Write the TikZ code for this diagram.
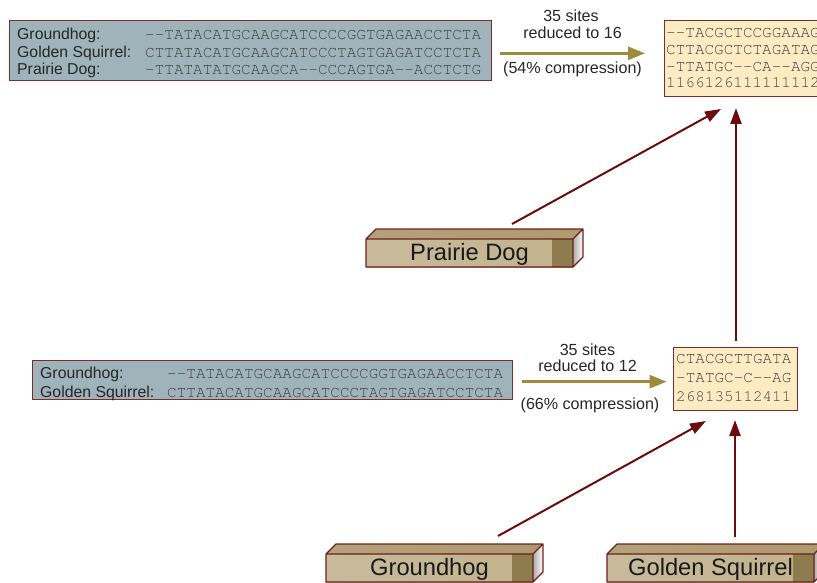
\documentclass[tikz,border=0pt]{standalone}
\usepackage{fontspec}
\setsansfont{Liberation Sans}
\newfontfamily\seqfont{TeX Gyre Cursor}
\usetikzlibrary{arrows.meta,calc}
\definecolor{greybox}{HTML}{9FB3BB}
\definecolor{boxborder}{HTML}{7D2B2B}
\definecolor{peach}{HTML}{FDEBC3}
\definecolor{olivearrow}{HTML}{A08A3C}
\definecolor{darkred}{HTML}{6A0C0C}
\definecolor{seqgray}{HTML}{404040}
\definecolor{frontL}{HTML}{C8BB9C}
\definecolor{frontM}{HTML}{E3DDCF}
\definecolor{frontR}{HTML}{C2B28D}
\definecolor{frontD}{HTML}{8E7B4E}
\definecolor{topL}{HTML}{B3A27C}
\definecolor{topM}{HTML}{F3F0E8}
\definecolor{topR}{HTML}{AE9A6E}
\definecolor{crateline}{HTML}{6E1E1E}
\newcommand\crate[6]{%
  \shade[left color=topL, middle color=topM, right color=topR]
    (#2,#3) -- (#2+10,#3-10) -- (#4+10,#3-10) -- (#4,#3) -- cycle;
  \shade[left color=gray!65, right color=white]
    (#4,#3) -- (#4+10,#3-10) -- (#4+10,#5-10) -- (#4,#5) -- cycle;
  \shade[left color=frontL, middle color=frontM, right color=frontR] (#2,#3) rectangle (#4,#5);
  \fill[frontD] (#4-21,#3) rectangle (#4,#5);
  \draw[crateline, line width=1.1pt, line join=round]
    (#2,#3) rectangle (#4,#5)
    (#2,#3) -- (#2+10,#3-10) -- (#4+10,#3-10) -- (#4,#3)
    (#4+10,#3-10) -- (#4+10,#5-10) -- (#4,#5);
  \node[cratetext] (#1) at ({(#2+#4)/2},#3+21.7) {#6};
}
\begin{document}
\begin{tikzpicture}[x=1pt,y=-1pt,
  seq/.style={font=\seqfont\fontsize{16}{16}\selectfont, text=seqgray, anchor=base west, inner sep=0pt},
  lab/.style={font=\sffamily\fontsize{15.8}{16}\selectfont, anchor=base west, inner sep=0pt, text=black!85},
  note/.style={font=\sffamily\fontsize{16.1}{16}\selectfont, anchor=base, inner sep=0pt, text=black!85},
  cratetext/.style={font=\sffamily\fontsize{23.7}{24}\selectfont, anchor=base, inner sep=0pt, text=black!90},
  alnbox/.style={draw=boxborder, fill=greybox, line width=1pt, inner sep=0pt},
  resbox/.style={draw=boxborder, fill=peach, line width=1pt, inner sep=0pt},
  comp/.style={draw=olivearrow, line width=2.5pt, -{Triangle[length=17pt,width=13pt]}},
  link/.style={draw=darkred, line width=2pt, -{Triangle[length=16pt,width=11pt]}},
]
\useasboundingbox (0,0) rectangle (817,583);

% ---- top level ----
\node[alnbox, minimum width=482pt, minimum height=60pt] (aln1) at (250,51) {};
\node[lab] (a1l1) at (17,40) {Groundhog:};
\node[lab] (a1l2) at (17,57.5) {Golden Squirrel:};
\node[lab] (a1l3) at (17,75) {Prairie Dog:};
\node[seq] (a1s1) at (145,40) {--TATACATGCAAGCATCCCCGGTGAGAACCTCTA};
\node[seq] (a1s2) at (145,57.5) {CTTATACATGCAAGCATCCCTAGTGAGATCCTCTA};
\node[seq] (a1s3) at (145,75) {-TTATATATGCAAGCA--CCCAGTGA--ACCTCTG};

\node[resbox, minimum width=166pt, minimum height=76pt] (res1) at (747,59) {};
\node[seq] (r1s1) at (666,37.8) {--TACGCTCCGGAAAG};
\node[seq] (r1s2) at (666,54.5) {CTTACGCTCTAGATAG};
\node[seq] (r1s3) at (666,71.2) {-TTATGC--CA--AGG};
\node[seq] (r1s4) at (666,87.9) {1166126111111112};

\node[note] (n1a) at (571,21.7) {35 sites};
\node[note] (n1b) at (572.5,38.3) {reduced to 16};
\node[note] (n1c) at (572.5,73.3) {(54\% compression)};
\coordinate (c1s) at (500,53.3);
\coordinate (c1e) at (645,53.3);
\draw[comp] (c1s) -- (c1e);

\crate{pd}{366}{239}{573}{267}{Prairie Dog}

% ---- bottom level ----
\node[alnbox, minimum width=480pt, minimum height=39pt] (aln2) at (272,379.5) {};
\node[lab] (a2l1) at (40,378.3) {Groundhog:};
\node[lab] (a2l2) at (40,397.5) {Golden Squirrel:};
\node[seq] (a2s1) at (167,378.3) {--TATACATGCAAGCATCCCCGGTGAGAACCTCTA};
\node[seq] (a2s2) at (167,397.5) {CTTATACATGCAAGCATCCCTAGTGAGATCCTCTA};

\node[resbox, minimum width=124pt, minimum height=63pt] (res2) at (735,378.5) {};
\node[seq] (r2s1) at (676,363.3) {CTACGCTTGATA};
\node[seq] (r2s2) at (676,382.5) {-TATGC-C--AG};
\node[seq] (r2s3) at (676,401.5) {268135112411};

\node[note] (n2a) at (587.5,355) {35 sites};
\node[note] (n2b) at (587.5,371.7) {reduced to 12};
\node[note] (n2c) at (590,409) {(66\% compression)};
\coordinate (c2s) at (521.7,381.7);
\coordinate (c2e) at (666.7,381.7);
\draw[comp] (c2s) -- (c2e);

\crate{gh}{326}{554}{533}{582}{Groundhog}
\crate{gs}{607}{554}{814}{582}{Golden Squirrel}

% ---- connectors ----
\coordinate (pdOut) at (512,224);
\coordinate (res1inA) at (721,109);
\coordinate (res2Out) at (736,341);
\coordinate (res1inB) at (736,108);
\coordinate (ghOut) at (498,536);
\coordinate (res2inA) at (706,421);
\coordinate (gsOut) at (735,537);
\coordinate (res2inB) at (735,420);
\draw[link] (pdOut) -- (res1inA);
\draw[link] (res2Out) -- (res1inB);
\draw[link] (ghOut) -- (res2inA);
\draw[link] (gsOut) -- (res2inB);
\end{tikzpicture}
\end{document}
